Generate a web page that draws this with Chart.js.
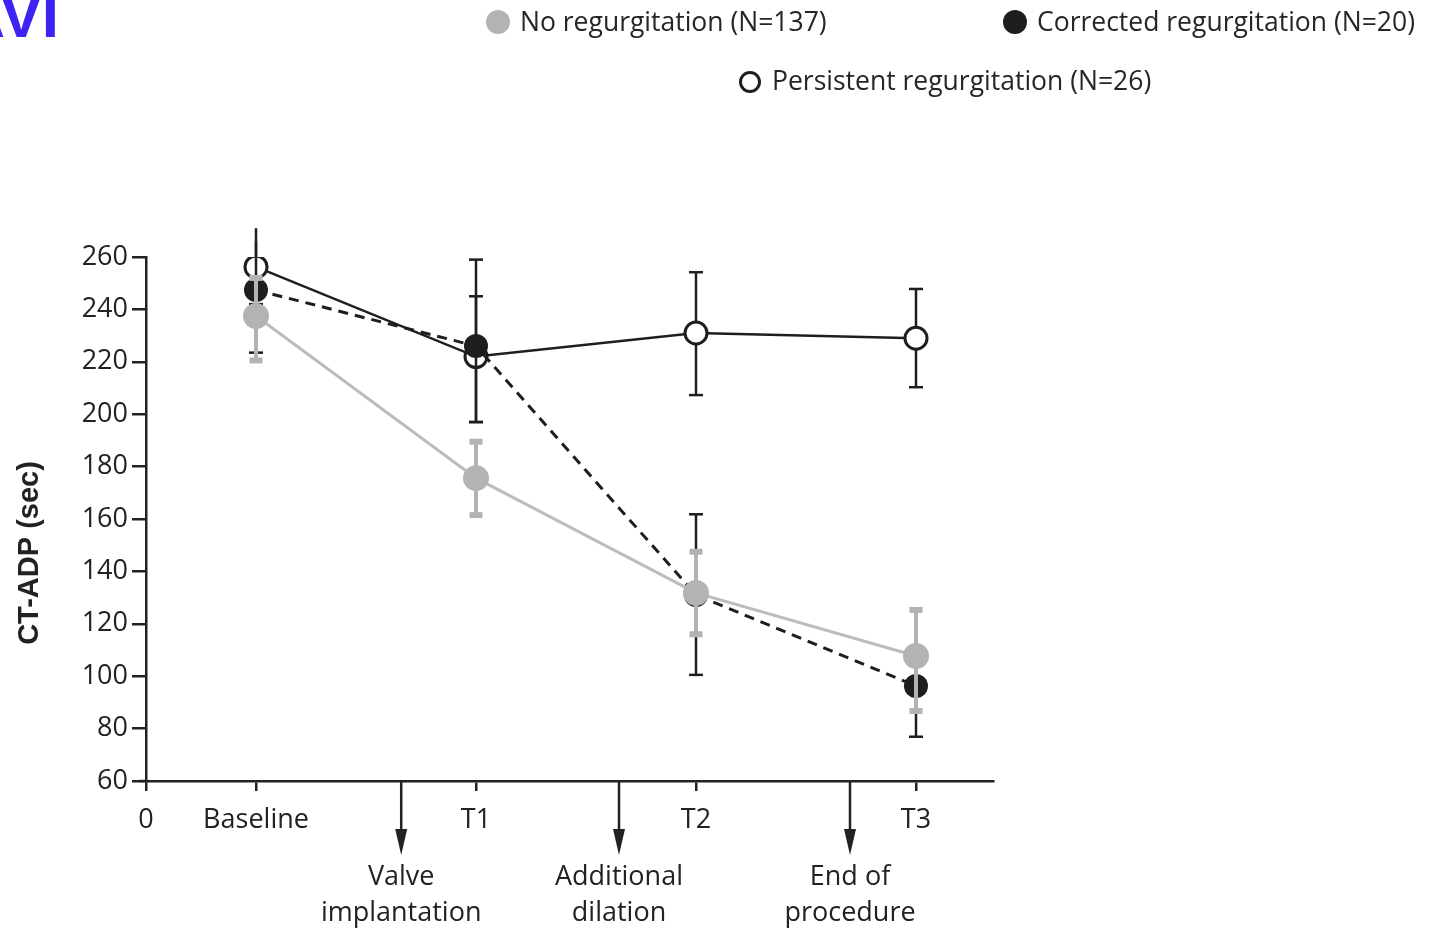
<!DOCTYPE html>
<html lang="en">
<head>
<meta charset="UTF-8">
<title>CT-ADP during TAVI</title>
<script src="https://cdn.jsdelivr.net/npm/chart.js@4.4.0/dist/chart.umd.min.js"></script>
<style>
  body { margin: 0; padding: 0; background: #ffffff; font-family: 'Open Sans', sans-serif; }
  .wrap { position: relative; width: 1429px; height: 929px; overflow: hidden; }
  #chart { position: absolute; left: 0; top: 0; }
  .tag { position: absolute; left: -73px; top: -15px; font: bold 62px 'Liberation Sans', Arial, sans-serif; line-height: 62px; color: #3d24f2; white-space: nowrap; }
  .leg { position: absolute; font-size: 26.5px; line-height: 36px; color: #262626; white-space: nowrap; }
  .dot { display: inline-block; width: 24px; height: 24px; border-radius: 50%; vertical-align: -3px; margin-right: 10px; box-sizing: border-box; }
</style>
</head>
<body>
<div class="wrap">
  <canvas id="chart" width="1429" height="929"></canvas>
  <div class="tag">TAVI</div>
  <div class="leg" style="left:486px; top:3px;"><span class="dot" style="background:#b3b3b5;"></span>No regurgitation (N=137)</div>
  <div class="leg" style="left:1003px; top:3px;"><span class="dot" style="background:#1e1e1e;"></span>Corrected regurgitation (N=20)</div>
  <div class="leg" style="left:739px; top:62px;"><span class="dot" style="border:3px solid #1e1e1e; width:22px; height:22px; margin-right:11px;"></span>Persistent regurgitation (N=26)</div>
</div>
<script>
  // time points on the x axis
  var timeLabels = ['0', 'Baseline', 'T1', 'T2', 'T3'];
  var timePos = [0, 0.5, 1.5, 2.5, 3.5];
  var eventLabels = [['Valve', 'implantation'], ['Additional', 'dilation'], ['End of', 'procedure']];
  var eventPos = [1.16, 2.15, 3.2];

  // CT-ADP (sec) at Baseline, T1, T2, T3
  var noRegMean = [237.5, 175.6, 131.8, 107.7];
  var noRegLow = [220.5, 161.5, 116.0, 86.7];
  var noRegHigh = [252.0, 189.5, 147.5, 125.3];

  var corrMean = [247.4, 226.0, 131.0, 96.3];
  var corrLow = [223.5, 197.0, 100.5, 76.9];
  var corrHigh = [271.0, 259.0, 161.8, 111.0];

  var persMean = [256.2, 222.0, 231.0, 229.0];
  var persLow = [242.0, 197.0, 207.3, 210.3];
  var persHigh = [266.0, 245.0, 254.2, 247.8];

  var GRAY = '#b3b3b5';
  var BLACK = '#1e1e1e';

  function pts(arr) {
    return arr.map(function (v, i) { return { x: timePos[i + 1], y: v }; });
  }

  var errorBars = [
    { low: noRegLow, high: noRegHigh, color: GRAY, width: 4, capW: 13, capH: 6 },
    { low: corrLow, high: corrHigh, color: BLACK, width: 2.5, capW: 14, capH: 2.5 },
    { low: persLow, high: persHigh, color: BLACK, width: 2.5, capW: 14, capH: 2.5 }
  ];

  var errorBarPlugin = {
    id: 'errorBars',
    beforeDatasetDraw: function (chart, args) {
      var eb = errorBars[args.index];
      var ctx = chart.ctx, xs = chart.scales.x, ys = chart.scales.y;
      ctx.save();
      ctx.strokeStyle = eb.color;
      ctx.fillStyle = eb.color;
      ctx.lineWidth = eb.width;
      eb.low.forEach(function (lo, i) {
        var x = xs.getPixelForValue(timePos[i + 1]);
        var yl = ys.getPixelForValue(lo);
        var yh = ys.getPixelForValue(eb.high[i]);
        ctx.beginPath();
        ctx.moveTo(x, yl);
        ctx.lineTo(x, yh);
        ctx.stroke();
        ctx.fillRect(x - eb.capW / 2, yl - eb.capH / 2, eb.capW, eb.capH);
        // the top bar of the first point runs past the axis without a cap
        if (eb.high[i] <= 260) {
          ctx.fillRect(x - eb.capW / 2, yh - eb.capH / 2, eb.capW, eb.capH);
        }
      });
      ctx.restore();
    }
  };

  var extrasPlugin = {
    id: 'extras',
    afterDraw: function (chart) {
      var ctx = chart.ctx, xs = chart.scales.x, ys = chart.scales.y;
      var axisY = ys.getPixelForValue(60);
      ctx.save();
      // small overhang of the x axis to the left of the y axis
      ctx.strokeStyle = '#222';
      ctx.lineWidth = 2.5;
      ctx.beginPath();
      ctx.moveTo(xs.left - 7, axisY);
      ctx.lineTo(xs.left, axisY);
      ctx.stroke();

      // procedure event arrows
      ctx.fillStyle = '#222';
      ctx.font = '27px "Open Sans"';
      ctx.textAlign = 'center';
      ctx.textBaseline = 'middle';
      eventPos.forEach(function (p, i) {
        var x = xs.getPixelForValue(p);
        ctx.beginPath();
        ctx.moveTo(x, axisY);
        ctx.lineTo(x, axisY + 52);
        ctx.stroke();
        ctx.beginPath();
        ctx.moveTo(x - 6, axisY + 48);
        ctx.lineTo(x + 6, axisY + 48);
        ctx.lineTo(x, axisY + 74);
        ctx.closePath();
        ctx.fill();
        ctx.fillText(eventLabels[i][0], x, 877);
        ctx.fillText(eventLabels[i][1], x, 913);
      });

      // y axis title
      ctx.translate(30, 553);
      ctx.rotate(-Math.PI / 2);
      ctx.font = 'bold 29px "Liberation Sans", Arial, sans-serif';
      ctx.fillText('CT-ADP (sec)', 0, 0);
      ctx.restore();
    }
  };

  var ctx = document.getElementById('chart').getContext('2d');
  var chart = new Chart(ctx, {
    type: 'line',
    data: {
      datasets: [{
        label: 'No regurgitation (N=137)',
        data: pts(noRegMean),
        borderColor: '#bcbcbe',
        borderWidth: 3,
        pointRadius: 13,
        pointBackgroundColor: GRAY,
        pointBorderColor: GRAY,
        pointBorderWidth: 0
      }, {
        label: 'Corrected regurgitation (N=20)',
        data: pts(corrMean),
        borderColor: BLACK,
        borderWidth: 3,
        borderDash: [10, 7],
        pointRadius: 12,
        pointBackgroundColor: BLACK,
        pointBorderColor: BLACK,
        pointBorderWidth: 0
      }, {
        label: 'Persistent regurgitation (N=26)',
        data: pts(persMean),
        borderColor: BLACK,
        borderWidth: 2.5,
        pointRadius: 11,
        pointBackgroundColor: '#ffffff',
        pointBorderColor: BLACK,
        pointBorderWidth: 3
      }]
    },
    options: {
      responsive: false,
      animation: false,
      layout: { padding: { left: 0, right: 436, top: 257, bottom: 0 } },
      plugins: {
        legend: { display: false },
        tooltip: { enabled: false }
      },
      scales: {
        x: {
          type: 'linear',
          min: 0,
          max: 3.85,
          afterFit: function (s) { s.height = 148; },
          afterBuildTicks: function (s) {
            s.ticks = timePos.map(function (v) { return { value: v }; });
          },
          ticks: {
            autoSkip: false,
            maxRotation: 0,
            padding: 13,
            color: '#222',
            font: { family: 'Open Sans', size: 27 },
            callback: function (v) { return timeLabels[timePos.indexOf(v)]; }
          },
          grid: { drawOnChartArea: false, tickLength: 10, color: '#222', lineWidth: 2.5 },
          border: { display: true, color: '#222', width: 2.5 }
        },
        y: {
          min: 60,
          max: 260,
          afterFit: function (s) { s.width = 146; },
          ticks: {
            stepSize: 20,
            padding: 4,
            color: '#222',
            font: { family: 'Open Sans', size: 27 }
          },
          grid: { drawOnChartArea: false, tickLength: 14, color: '#222', lineWidth: 2.5 },
          border: { display: true, color: '#222', width: 2.5 }
        }
      }
    },
    plugins: [errorBarPlugin, extrasPlugin]
  });
</script>
</body>
</html>
